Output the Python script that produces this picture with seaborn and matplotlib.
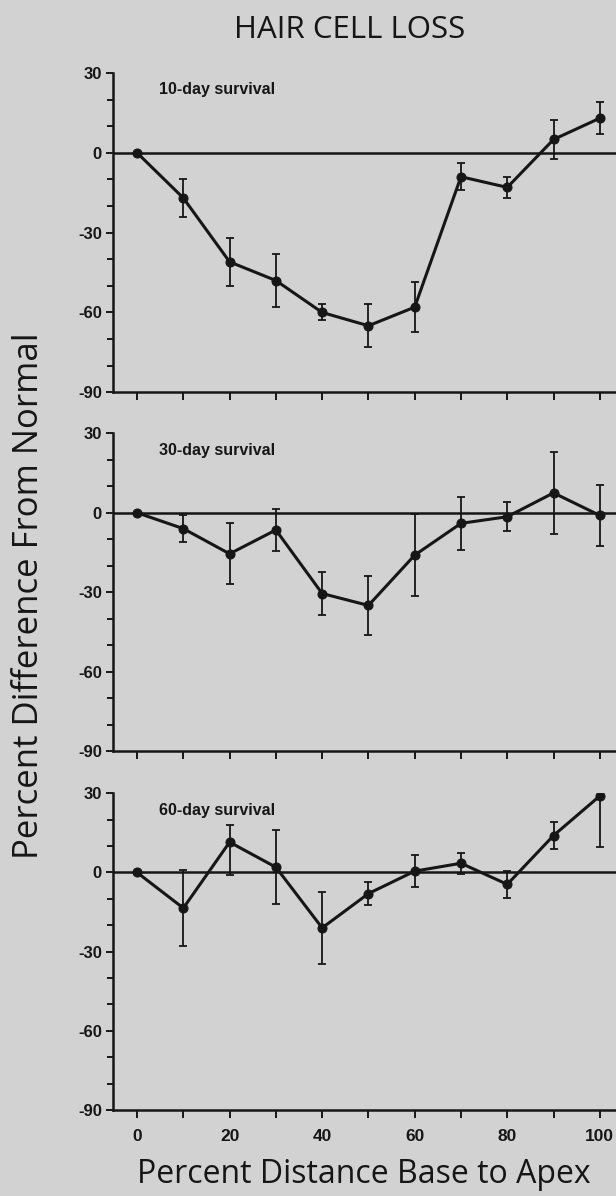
import numpy as np
import pandas as pd
import matplotlib
matplotlib.use("Agg")
import matplotlib.pyplot as plt
import seaborn as sns
from matplotlib.ticker import MultipleLocator

# ---- data ----
positions = [0, 10, 20, 30, 40, 50, 60, 70, 80, 90, 100]
panel_labels = ["10-day survival", "30-day survival", "60-day survival"]

day10_mean = [0, -17, -41, -48, -60, -65, -58, -9, -13, 5, 13]
day10_err_lo = [0, 7, 9, 10, 3, 8, 9.5, 5, 4, 7.5, 6]
day10_err_hi = [0, 7, 9, 10, 3, 8, 9.5, 5, 4, 7.5, 6]

day30_mean = [0, -6, -15.5, -6.5, -30.5, -35, -16, -4, -1.5, 7.5, -1]
day30_err_lo = [0, 5, 11.5, 8, 8, 11, 15.5, 10, 5.5, 15.5, 11.5]
day30_err_hi = [0, 5, 11.5, 8, 8, 11, 15.5, 10, 5.5, 15.5, 11.5]

day60_mean = [0, -13.5, 11.5, 2, -21, -8, 0.5, 3.5, -4.5, 14, 29]
day60_err_lo = [0, 14.5, 12.5, 14, 13.5, 4.5, 6, 4, 5, 5, 19.5]
day60_err_hi = [0, 14.5, 6.5, 14, 13.5, 4.5, 6, 4, 5, 5, 0]

yticks = [30, 0, -30, -60, -90]
xticklabels_vals = [0, 20, 40, 60, 80, 100]

means = [day10_mean, day30_mean, day60_mean]
errs_lo = [day10_err_lo, day30_err_lo, day60_err_lo]
errs_hi = [day10_err_hi, day30_err_hi, day60_err_hi]

# ---- style ----
bg = "#d2d2d2"
ink = "#161616"
sns.set_theme(style="ticks")
plt.rcParams["font.family"] = ["Liberation Sans", "DejaVu Sans"]

fig = plt.figure(figsize=(6.16, 11.96), dpi=100, facecolor=bg)

left = 113 / 616
width = 1.0 - left
rects = [
    (0.672, 0.939),
    (0.372, 0.6377),
    (0.0719, 0.3367),
]

for i, (b, t) in enumerate(rects):
    ax = fig.add_axes([left, b, width, t - b])
    ax.set_facecolor(bg)
    df = pd.DataFrame({"pos": positions, "val": means[i]})
    ax.errorbar(positions, means[i], yerr=[errs_lo[i], errs_hi[i]],
                fmt="none", ecolor=ink, elinewidth=1.3, capsize=3, capthick=1.3,
                zorder=3)
    sns.lineplot(data=df, x="pos", y="val", ax=ax, color=ink, linewidth=2.2,
                 marker="o", markersize=6.5, markeredgecolor=ink,
                 markerfacecolor=ink, zorder=4)
    ax.axhline(0, color=ink, linewidth=1.8, zorder=2)
    ax.set_xlim(-5.2, 103.5)
    ax.set_ylim(-90, 30)
    ax.set_yticks(yticks)
    ax.set_yticklabels([f"{v:d}" for v in yticks])
    ax.yaxis.set_minor_locator(MultipleLocator(10))
    ax.set_xticks(positions)
    if i == 2:
        ax.set_xticklabels([str(p) if p in xticklabels_vals else "" for p in positions])
    else:
        ax.set_xticklabels([])
    ax.set_xlabel("")
    ax.set_ylabel("")
    for s in ["top", "right"]:
        ax.spines[s].set_visible(False)
    for s in ["left", "bottom"]:
        ax.spines[s].set_color(ink)
        ax.spines[s].set_linewidth(1.8)
    ax.tick_params(axis="y", which="major", direction="out", length=5, width=1.4,
                   color=ink, labelsize=12, labelcolor=ink, pad=3)
    ax.tick_params(axis="y", which="minor", direction="out", length=4, width=1.4,
                   color=ink)
    ax.tick_params(axis="x", which="major", direction="out", length=6, width=1.4,
                   color=ink, labelsize=12.5, labelcolor=ink, pad=8)
    for lab in ax.get_yticklabels() + ax.get_xticklabels():
        lab.set_fontweight("bold")
    ax.text(0.091, 0.947, panel_labels[i], transform=ax.transAxes,
            fontsize=11.5, fontweight="bold", color=ink, ha="left", va="center")
    ax.grid(False)

fig.text(0.568, 0.975, "HAIR CELL LOSS", fontsize=22.5, color=ink,
         ha="center", va="center", family=["Open Sans", "DejaVu Sans"])
fig.text(0.047, 0.502, "Percent Difference From Normal", fontsize=25, color=ink,
         rotation=90, ha="center", va="center", family=["Open Sans", "DejaVu Sans"])
fig.text(0.591, 0.0176, "Percent Distance Base to Apex", fontsize=23, color=ink,
         ha="center", va="center", family=["Open Sans", "DejaVu Sans"])

fig.savefig("out.png", dpi=100, facecolor=bg)
